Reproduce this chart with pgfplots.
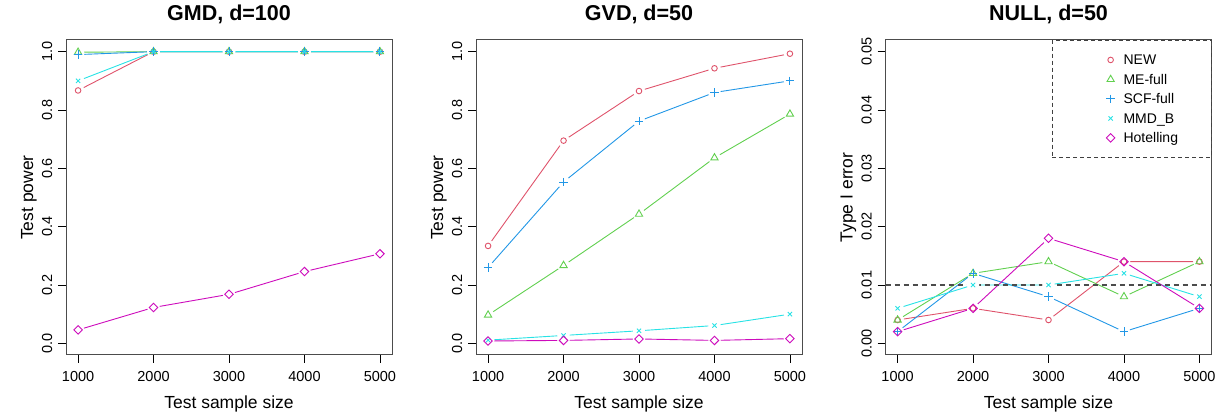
\documentclass[border=0pt]{standalone}
\usepackage{fontspec}
\setmainfont{Liberation Sans}
\usepackage{pgfplots}
\usepackage{pgfplotstable}
\pgfplotsset{compat=1.18}
\definecolor{cNEW}{HTML}{DF536B}
\definecolor{cME}{HTML}{61D04F}
\definecolor{cSCF}{HTML}{2297E6}
\definecolor{cMMD}{HTML}{28E2E5}
\definecolor{cHOT}{HTML}{CD0BBC}

\pgfplotstableread{
x    NEW   ME    SCF   MMD   HOT
1000 0.867 0.998 0.990 0.900 0.046
2000 1.000 1.000 1.000 1.000 0.123
3000 1.000 1.000 1.000 1.000 0.168
4000 1.000 1.000 1.000 1.000 0.246
5000 1.000 1.000 1.000 1.000 0.307
}\tabGMD
\pgfplotstableread{
x    NEW   ME    SCF   MMD   HOT
1000 0.334 0.097 0.260 0.011 0.008
2000 0.695 0.267 0.553 0.027 0.010
3000 0.865 0.443 0.762 0.043 0.015
4000 0.943 0.636 0.860 0.061 0.010
5000 0.993 0.786 0.900 0.100 0.016
}\tabGVD
\pgfplotstableread{
x    NEW   ME    SCF   MMD   HOT
1000 0.004 0.004 0.002 0.006 0.002
2000 0.006 0.012 0.012 0.010 0.006
3000 0.004 0.014 0.008 0.010 0.018
4000 0.014 0.008 0.002 0.012 0.014
5000 0.014 0.014 0.006 0.008 0.006
}\tabNULL

\pgfplotsset{
  rpanel/.style={
    width=326pt, height=315pt, scale only axis,
    anchor=south west,
    xmin=840, xmax=5160,
    xtick={1000,2000,3000,4000,5000},
    scaled ticks=false,
    axis line style={draw=black!70, line width=1pt},
    tick align=outside, tick pos=left,
    major tick length=8pt,
    tick style={black, line width=0.8pt},
    /pgf/number format/assume math mode=true,
    /pgf/number format/1000 sep={},
    ticklabel style={font=\fontsize{14.5}{16}\selectfont},
    xticklabel style={anchor=base, yshift=-18.5pt},
    yticklabel style={xshift=-6pt, rotate=90, anchor=base},
    every axis title/.style={font=\bfseries\fontsize{21.5}{24}\selectfont, at={(0.5,1)}, anchor=base, yshift=19.3pt},
    every axis x label/.style={at={(axis description cs:0.5,0)}, anchor=base, yshift=-53.3pt, font=\fontsize{17.5}{20}\selectfont},
    every axis y label/.style={at={(axis description cs:0,0.5)}, xshift=-33pt, rotate=90, anchor=base, font=\fontsize{17.5}{20}\selectfont},
    xlabel={Test sample size},
  },
  lin/.style={line width=0.9pt, forget plot},
  halo/.style={only marks, mark=*, mark size=6pt, white, draw=none, forget plot},
  pNEW/.style={cNEW, only marks, mark=o, mark size=2.8pt, line width=0.9pt, mark options={solid}},
  pME/.style={cME, only marks, mark=triangle, mark size=4.2pt, line width=0.9pt, mark options={solid}},
  pSCF/.style={cSCF, only marks, mark=+, mark size=4.2pt, line width=0.9pt, mark options={solid}},
  pMMD/.style={cMMD, only marks, mark=x, mark size=3pt, line width=0.9pt, mark options={solid}},
  pHOT/.style={cHOT, only marks, mark=square, mark size=3pt, line width=0.9pt, mark options={solid, rotate=45}},
}

\newcommand{\seriesLines}[1]{%
  \addplot[cNEW, lin] table[x=x, y=NEW] {#1};
  \addplot[cME, lin] table[x=x, y=ME] {#1};
  \addplot[cSCF, lin] table[x=x, y=SCF] {#1};
  \addplot[cMMD, lin] table[x=x, y=MMD] {#1};
  \addplot[cHOT, lin] table[x=x, y=HOT] {#1};
  \addplot[halo] table[x=x, y=NEW] {#1};
  \addplot[halo] table[x=x, y=ME] {#1};
  \addplot[halo] table[x=x, y=SCF] {#1};
  \addplot[halo] table[x=x, y=MMD] {#1};
  \addplot[halo] table[x=x, y=HOT] {#1};
}
\newcommand{\seriesMarks}[1]{%
  \addplot[pNEW] table[x=x, y=NEW] {#1};
  \addplot[pME] table[x=x, y=ME] {#1};
  \addplot[pSCF] table[x=x, y=SCF] {#1};
  \addplot[pMMD] table[x=x, y=MMD] {#1};
  \addplot[pHOT] table[x=x, y=HOT] {#1};
}

\begin{document}
\begin{tikzpicture}
\path[use as bounding box] (0,0) rectangle (1220pt,417pt);

\begin{axis}[rpanel, at={(66pt,62pt)},
  title={GMD, d=100}, ylabel={Test power},
  ymin=-0.04, ymax=1.04, ytick={0,0.2,0.4,0.6,0.8,1.0},
  yticklabel style={/pgf/number format/.cd, fixed, fixed zerofill, precision=1}]
\seriesLines{\tabGMD}
\seriesMarks{\tabGMD}
\end{axis}

\begin{axis}[rpanel, at={(476pt,62pt)},
  title={GVD, d=50}, ylabel={Test power},
  ymin=-0.04, ymax=1.04, ytick={0,0.2,0.4,0.6,0.8,1.0},
  yticklabel style={/pgf/number format/.cd, fixed, fixed zerofill, precision=1}]
\seriesLines{\tabGVD}
\seriesMarks{\tabGVD}
\end{axis}

\begin{axis}[rpanel, at={(885.5pt,62pt)},
  title={NULL, d=50}, ylabel={Type I error},
  ymin=-0.002, ymax=0.052, ytick={0,0.01,0.02,0.03,0.04,0.05},
  yticklabel style={/pgf/number format/.cd, fixed, fixed zerofill, precision=2},
  legend style={at={(1,1)}, anchor=north east, draw=black!75, dash pattern=on 4pt off 3pt, line width=0.9pt,
    inner xsep=33pt, inner ysep=12.5pt, row sep=5.5pt,
    font=\fontsize{14}{16}\selectfont,
    nodes={inner sep=0pt, text height=12pt, text depth=2pt},
    /tikz/every odd column/.append style={column sep=8.7pt}},
  legend cell align=left,
  legend image code/.code={\path (-25pt,0pt); \draw[#1, solid] plot coordinates {(0pt,0pt)};}]
\seriesLines{\tabNULL}
\addplot[black!70, line width=1.2pt, dash pattern=on 5pt off 4pt, forget plot] coordinates {(840,0.01) (5160,0.01)};
\seriesMarks{\tabNULL}
\legend{NEW, ME-full, SCF-full, MMD\_B, Hotelling}
\end{axis}
\end{tikzpicture}
\end{document}
